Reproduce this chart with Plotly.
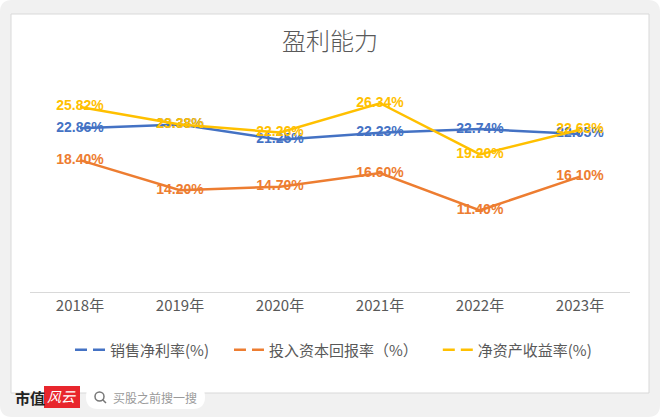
import plotly.graph_objects as go

# Data
years = ['2018年', '2019年', '2020年', '2021年', '2022年', '2023年']
net_margin = [22.86, 23.38, 21.25, 22.23, 22.74, 22.05]    # 销售净利率(%)
roic = [18.40, 14.20, 14.70, 16.60, 11.40, 16.10]          # 投入资本回报率（%）
roe = [25.82, 23.38, 22.26, 26.34, 19.20, 22.63]           # 净资产收益率(%)

names = ['销售净利率(%)', '投入资本回报率（%）', '净资产收益率(%)']
colors = ['#4472C4', '#ED7D31', '#FFC000']

W, H = 660, 417
CJK = 'Noto Sans CJK SC'
PAD = '\u2002\u2002'  # spacing between legend entries


def px(x):
    return x / W


def py(y):
    return 1 - y / H


fig = go.Figure()

for vals, name, c in zip([net_margin, roic, roe], names, colors):
    fig.add_trace(go.Scatter(
        x=years, y=vals,
        mode='lines+text',
        text=[f'{v:.2f}%' for v in vals],
        textposition='middle center',
        textfont=dict(family='Liberation Sans', size=14, color=c, weight='bold'),
        line=dict(color=c, width=2.5),
        showlegend=False,
        hoverinfo='skip',
        cliponaxis=False
    ))

# legend entries (dashed symbols like the original)
for name, c in zip(names, colors):
    fig.add_trace(go.Scatter(
        x=[None], y=[None], mode='lines', name=name + PAD,
        line=dict(color=c, width=2.5, dash='12px,6px')
    ))

shapes = []
# outer rounded background
r = 12
shapes.append(dict(
    type='path', xref='paper', yref='paper', layer='below',
    path=(f'M {px(r)} {py(0)} L {px(W - r)} {py(0)} Q {px(W)} {py(0)} {px(W)} {py(r)} '
          f'L {px(W)} {py(H - r)} Q {px(W)} {py(H)} {px(W - r)} {py(H)} '
          f'L {px(r)} {py(H)} Q {px(0)} {py(H)} {px(0)} {py(H - r)} '
          f'L {px(0)} {py(r)} Q {px(0)} {py(0)} {px(r)} {py(0)} Z'),
    fillcolor='#f1f1f1', line=dict(width=0)
))
# white chart card
shapes.append(dict(
    type='rect', xref='paper', yref='paper', layer='below',
    x0=px(11), x1=px(649), y0=py(393), y1=py(14),
    fillcolor='white', line=dict(color='#d9d9d9', width=1)
))
# red logo box
shapes.append(dict(
    type='rect', xref='paper', yref='paper', layer='below',
    x0=px(44), x1=px(80), y0=py(408), y1=py(386),
    fillcolor='#e8262d', line=dict(width=0)
))
# search pill
pr = 12
x0, x1, y0, y1 = 86, 205, 385, 409
shapes.append(dict(
    type='path', xref='paper', yref='paper', layer='below',
    path=(f'M {px(x0 + pr)} {py(y0)} L {px(x1 - pr)} {py(y0)} Q {px(x1)} {py(y0)} {px(x1)} {py(y0 + pr)} '
          f'Q {px(x1)} {py(y1)} {px(x1 - pr)} {py(y1)} L {px(x0 + pr)} {py(y1)} '
          f'Q {px(x0)} {py(y1)} {px(x0)} {py(y0 + pr)} Q {px(x0)} {py(y0)} {px(x0 + pr)} {py(y0)} Z'),
    fillcolor='white', line=dict(width=0)
))
# magnifier icon
shapes.append(dict(
    type='circle', xref='paper', yref='paper',
    x0=px(95), x1=px(104), y0=py(401), y1=py(392),
    line=dict(color='#777777', width=1.5)
))
shapes.append(dict(
    type='line', xref='paper', yref='paper',
    x0=px(102.5), x1=px(106), y0=py(399.5), y1=py(403),
    line=dict(color='#777777', width=1.5)
))

annotations = [
    dict(text='<b>市值</b>', x=px(13), y=py(397), xref='paper', yref='paper',
         xanchor='left', yanchor='middle', showarrow=False,
         font=dict(family=CJK, size=15, color='#222222')),
    dict(text='<i>风云</i>', x=px(62), y=py(396), xref='paper', yref='paper',
         xanchor='center', yanchor='middle', showarrow=False,
         font=dict(family=CJK, size=14, color='white')),
    dict(text='买股之前搜一搜', x=px(111), y=py(397), xref='paper', yref='paper',
         xanchor='left', yanchor='middle', showarrow=False,
         font=dict(family=CJK, size=12, color='#9a9a9a')),
]

fig.update_layout(
    width=W, height=H,
    margin=dict(l=0, r=0, t=0, b=0),
    paper_bgcolor='white',
    plot_bgcolor='rgba(0,0,0,0)',
    title=dict(text='盈利能力', x=0.5, xanchor='center', y=py(42), yanchor='middle',
               font=dict(family=CJK, size=24, color='#595959', weight=300)),
    font=dict(family=CJK, color='#595959'),
    xaxis=dict(domain=[px(30), px(630)], range=[-0.5, 5.5], showline=True,
               linecolor='#d9d9d9', linewidth=1, showgrid=False, ticks='',
               tickfont=dict(family=CJK, size=15, color='#595959'), fixedrange=True),
    yaxis=dict(domain=[py(292), py(77)], range=[0, 30], visible=False,
               showgrid=False, zeroline=False, fixedrange=True),
    legend=dict(orientation='h', x=px(341), xanchor='center', y=py(350), yanchor='middle',
                font=dict(family=CJK, size=15, color='#595959'),
                bgcolor='rgba(0,0,0,0)'),
    shapes=shapes,
    annotations=annotations,
    showlegend=True
)

fig.write_html('out.html', config={'displayModeBar': False},
               post_script="document.body.style.margin='0';")
